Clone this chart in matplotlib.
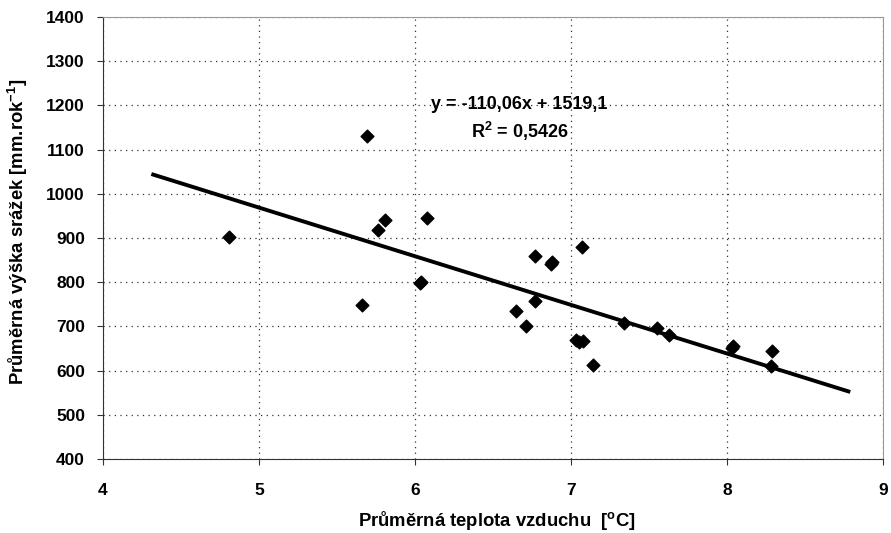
import matplotlib
matplotlib.use("Agg")
import matplotlib.pyplot as plt
import numpy as np

plt.rcParams['font.family'] = ['Liberation Sans', 'DejaVu Sans']
plt.rcParams['font.weight'] = 'bold'
plt.rcParams['mathtext.default'] = 'regular'

# mean air temperature [°C] and mean annual precipitation [mm/yr]
temperature = [4.81, 5.69, 5.66, 5.76, 5.81, 6.08, 6.03, 6.04, 6.77, 6.87, 6.88,
               7.07, 6.77, 6.65, 6.71, 7.03, 7.05, 7.08, 7.14, 7.34, 7.55,
               7.63, 8.03, 8.04, 8.29, 8.28]
precipitation = [903, 1130, 748, 918, 940, 945, 798, 800, 860, 842, 845,
                 880, 757, 735, 700, 670, 665, 668, 612, 708, 697,
                 680, 652, 655, 645, 610]

slope = -110.06
intercept = 1519.1
r_squared = 0.5426

x_ticks = [4, 5, 6, 7, 8, 9]
y_ticks = [400, 500, 600, 700, 800, 900, 1000, 1100, 1200, 1300, 1400]

TICK_FS = 12.5
LABEL_FS = 13.3
NOTE_FS = 13

fig = plt.figure(figsize=(8.91, 5.33), dpi=100)
ax = fig.add_axes([103/891, 1-459/533, (883-103)/891, (459-17)/533])

ax.set_xlim(4, 9)
ax.set_ylim(400, 1400)
ax.set_xticks(x_ticks)
ax.set_yticks(y_ticks)

ax.grid(True, linestyle=(0, (1, 3.5)), color='#333333', linewidth=0.9)
ax.set_axisbelow(True)

ax.scatter(temperature, precipitation, marker='D', s=42, color='black', zorder=3)

# linear trend, extended half a degree beyond the data on both sides
x_min = min(temperature) - 0.5
x_max = max(temperature) + 0.5
xl = np.array([x_min, x_max])
ax.plot(xl, slope * xl + intercept, color='black', linewidth=2.8, zorder=4,
        solid_capstyle='butt')

eq_text = 'y = ' + f'{slope:.2f}'.replace('.', ',') + 'x + ' + \
    f'{intercept:.1f}'.replace('.', ',')
ax.text(6.67, 1201, eq_text, ha='center', va='center', fontsize=NOTE_FS,
        fontweight='bold')
ax.text(6.67, 1140, '$R^2$ = ' + f'{r_squared:.4f}'.replace('.', ','),
        ha='center', va='center', fontsize=NOTE_FS, fontweight='bold')

for side in ['top', 'right']:
    ax.spines[side].set_color('#999999')
for side in ['left', 'bottom']:
    ax.spines[side].set_color('#333333')
ax.tick_params(axis='both', labelsize=TICK_FS, length=4, color='#333333',
               direction='out')
ax.tick_params(axis='y', pad=9)
ax.tick_params(axis='x', pad=13)
for lbl in ax.get_xticklabels() + ax.get_yticklabels():
    lbl.set_fontweight('bold')

fig.text(18/891, 1 - 232/533, 'Průměrná výška srážek [mm.rok$^{-1}$]',
         rotation=90, ha='center', va='center', fontsize=LABEL_FS,
         fontweight='bold')
fig.text(497/891, 1 - 520/533, 'Průměrná teplota vzduchu  [$^{o}$C]',
         ha='center', va='center', fontsize=LABEL_FS, fontweight='bold')

fig.savefig('out.png', dpi=100)
